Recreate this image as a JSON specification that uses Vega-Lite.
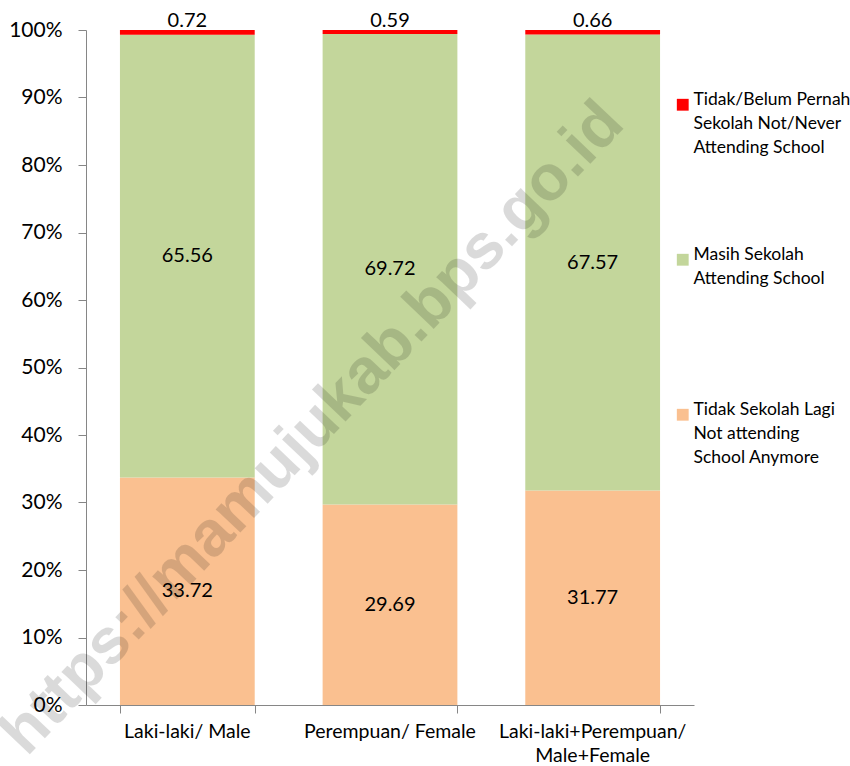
{
  "$schema": "https://vega.github.io/schema/vega-lite/v6.json",
  "width": 608,
  "height": 675,
  "autosize": "none",
  "padding": {"left": 86, "top": 30, "right": 156, "bottom": 61},
  "background": "white",
  "config": {
    "view": {"stroke": null},
    "font": "Lato",
    "style": {"guide-label": {"lineHeight": 24}},
    "axis": {"labelFont": "Lato", "labelColor": "#000000", "domainColor": "#868686", "tickColor": "#868686", "grid": false, "title": null}
  },
  "datasets": {
    "main": [
      {"group": "Laki-laki/ Male", "cat": "Tidak Sekolah Lagi Not attending School Anymore", "ord": 1, "value": 33.72},
      {"group": "Laki-laki/ Male", "cat": "Masih Sekolah Attending School", "ord": 2, "value": 65.56},
      {"group": "Laki-laki/ Male", "cat": "Tidak/Belum Pernah Sekolah Not/Never Attending School", "ord": 3, "value": 0.72},
      {"group": "Perempuan/ Female", "cat": "Tidak Sekolah Lagi Not attending School Anymore", "ord": 1, "value": 29.69},
      {"group": "Perempuan/ Female", "cat": "Masih Sekolah Attending School", "ord": 2, "value": 69.72},
      {"group": "Perempuan/ Female", "cat": "Tidak/Belum Pernah Sekolah Not/Never Attending School", "ord": 3, "value": 0.59},
      {"group": "Laki-laki+Perempuan/ Male+Female", "cat": "Tidak Sekolah Lagi Not attending School Anymore", "ord": 1, "value": 31.77},
      {"group": "Laki-laki+Perempuan/ Male+Female", "cat": "Masih Sekolah Attending School", "ord": 2, "value": 67.57},
      {"group": "Laki-laki+Perempuan/ Male+Female", "cat": "Tidak/Belum Pernah Sekolah Not/Never Attending School", "ord": 3, "value": 0.66}
    ],
    "mark": [
      {"group": "Perempuan/ Female", "pos": 53, "label": "https://mamujukab.bps.go.id"}
    ]
  },
  "resolve": {"axis": {"x": "independent"}},
  "layer": [
    {
      "data": {"name": "main"},
      "mark": {"type": "bar", "opacity": 1},
      "encoding": {
        "x": {
          "field": "group", "type": "nominal", "sort": ["Laki-laki/ Male", "Perempuan/ Female", "Laki-laki+Perempuan/ Male+Female"],
          "scale": {"paddingInner": 0.335, "paddingOuter": 0.1675},
          "axis": {"orient": "bottom", "labels": false, "ticks": true, "domain": true, "tickBand": "extent", "tickSize": 8, "zindex": 1}
        },
        "y": {
          "field": "value", "type": "quantitative", "stack": "zero",
          "scale": {"domain": [0, 100]},
          "axis": {"values": [0,10,20,30,40,50,60,70,80,90,100], "labelExpr": "datum.value + '%'", "labelFontSize": 21, "tickSize": 8, "labelPadding": 16}
        },
        "order": {"field": "ord", "type": "quantitative"},
        "color": {
          "field": "cat", "type": "nominal",
          "scale": {
            "domain": ["Tidak/Belum Pernah Sekolah Not/Never Attending School", "Masih Sekolah Attending School", "Tidak Sekolah Lagi Not attending School Anymore"],
            "range": ["#FF0000", "#C3D69B", "#FAC090"]
          },
          "legend": {
            "title": null, "orient": "none", "legendX": 588, "legendY": 66,
            "symbolType": "square", "symbolSize": 140, "symbolStrokeWidth": 0,
            "labelFont": "Lato", "labelFontSize": 17.5, "labelColor": "#000000", "labelLimit": 300, "labelOffset": 2,
            "labelBaseline": "alphabetic",
            "rowPadding": 88,
            "labelExpr": "datum.label == 'Tidak/Belum Pernah Sekolah Not/Never Attending School' ? ['Tidak/Belum Pernah', 'Sekolah Not/Never', 'Attending School'] : datum.label == 'Masih Sekolah Attending School' ? ['Masih Sekolah', 'Attending School', ' '] : ['Tidak Sekolah Lagi', 'Not attending', 'School Anymore']"
          }
        }
      }
    },
    {
      "data": {"name": "main"},
      "transform": [
        {"stack": "value", "groupby": ["group"], "sort": [{"field": "ord"}], "as": ["v0", "v1"]},
        {"filter": "datum.ord < 3"},
        {"calculate": "(datum.v0 + datum.v1) / 2", "as": "mid"}
      ],
      "mark": {"type": "text", "fontSize": 20, "font": "Lato", "color": "#000000"},
      "encoding": {
        "x": {"field": "group", "type": "nominal", "sort": ["Laki-laki/ Male", "Perempuan/ Female", "Laki-laki+Perempuan/ Male+Female"],
              "axis": {"orient": "bottom", "ticks": false, "domain": false, "labelAngle": 0, "labelFontSize": 19.5, "labelPadding": 17, "labelBaseline": "top", "labelLimit": 300,
                       "labelExpr": "datum.label == 'Laki-laki+Perempuan/ Male+Female' ? ['Laki-laki+Perempuan/', 'Male+Female'] : datum.label"}},
        "y": {"field": "mid", "type": "quantitative"},
        "text": {"field": "value", "type": "quantitative", "format": ".2f"}
      }
    },
    {
      "data": {"name": "main"},
      "transform": [{"filter": "datum.ord == 3"}],
      "mark": {"type": "text", "fontSize": 20, "font": "Lato", "color": "#000000", "baseline": "bottom", "dy": 1},
      "encoding": {
        "x": {"field": "group", "type": "nominal", "sort": ["Laki-laki/ Male", "Perempuan/ Female", "Laki-laki+Perempuan/ Male+Female"], "axis": null},
        "y": {"datum": 100, "type": "quantitative"},
        "text": {"field": "value", "type": "quantitative", "format": ".2f"}
      }
    },
    {
      "data": {"name": "mark"},
      "mark": {"type": "text", "font": "Liberation Sans", "fontWeight": "bold", "fontSize": 64, "angle": -46.5, "color": "#000000", "opacity": 0.14, "dx": -112, "align": "center", "baseline": "middle"},
      "encoding": {
        "x": {"field": "group", "type": "nominal", "sort": null, "axis": null},
        "y": {"field": "pos", "type": "quantitative"},
        "text": {"field": "label"}
      }
    }
  ]
}
